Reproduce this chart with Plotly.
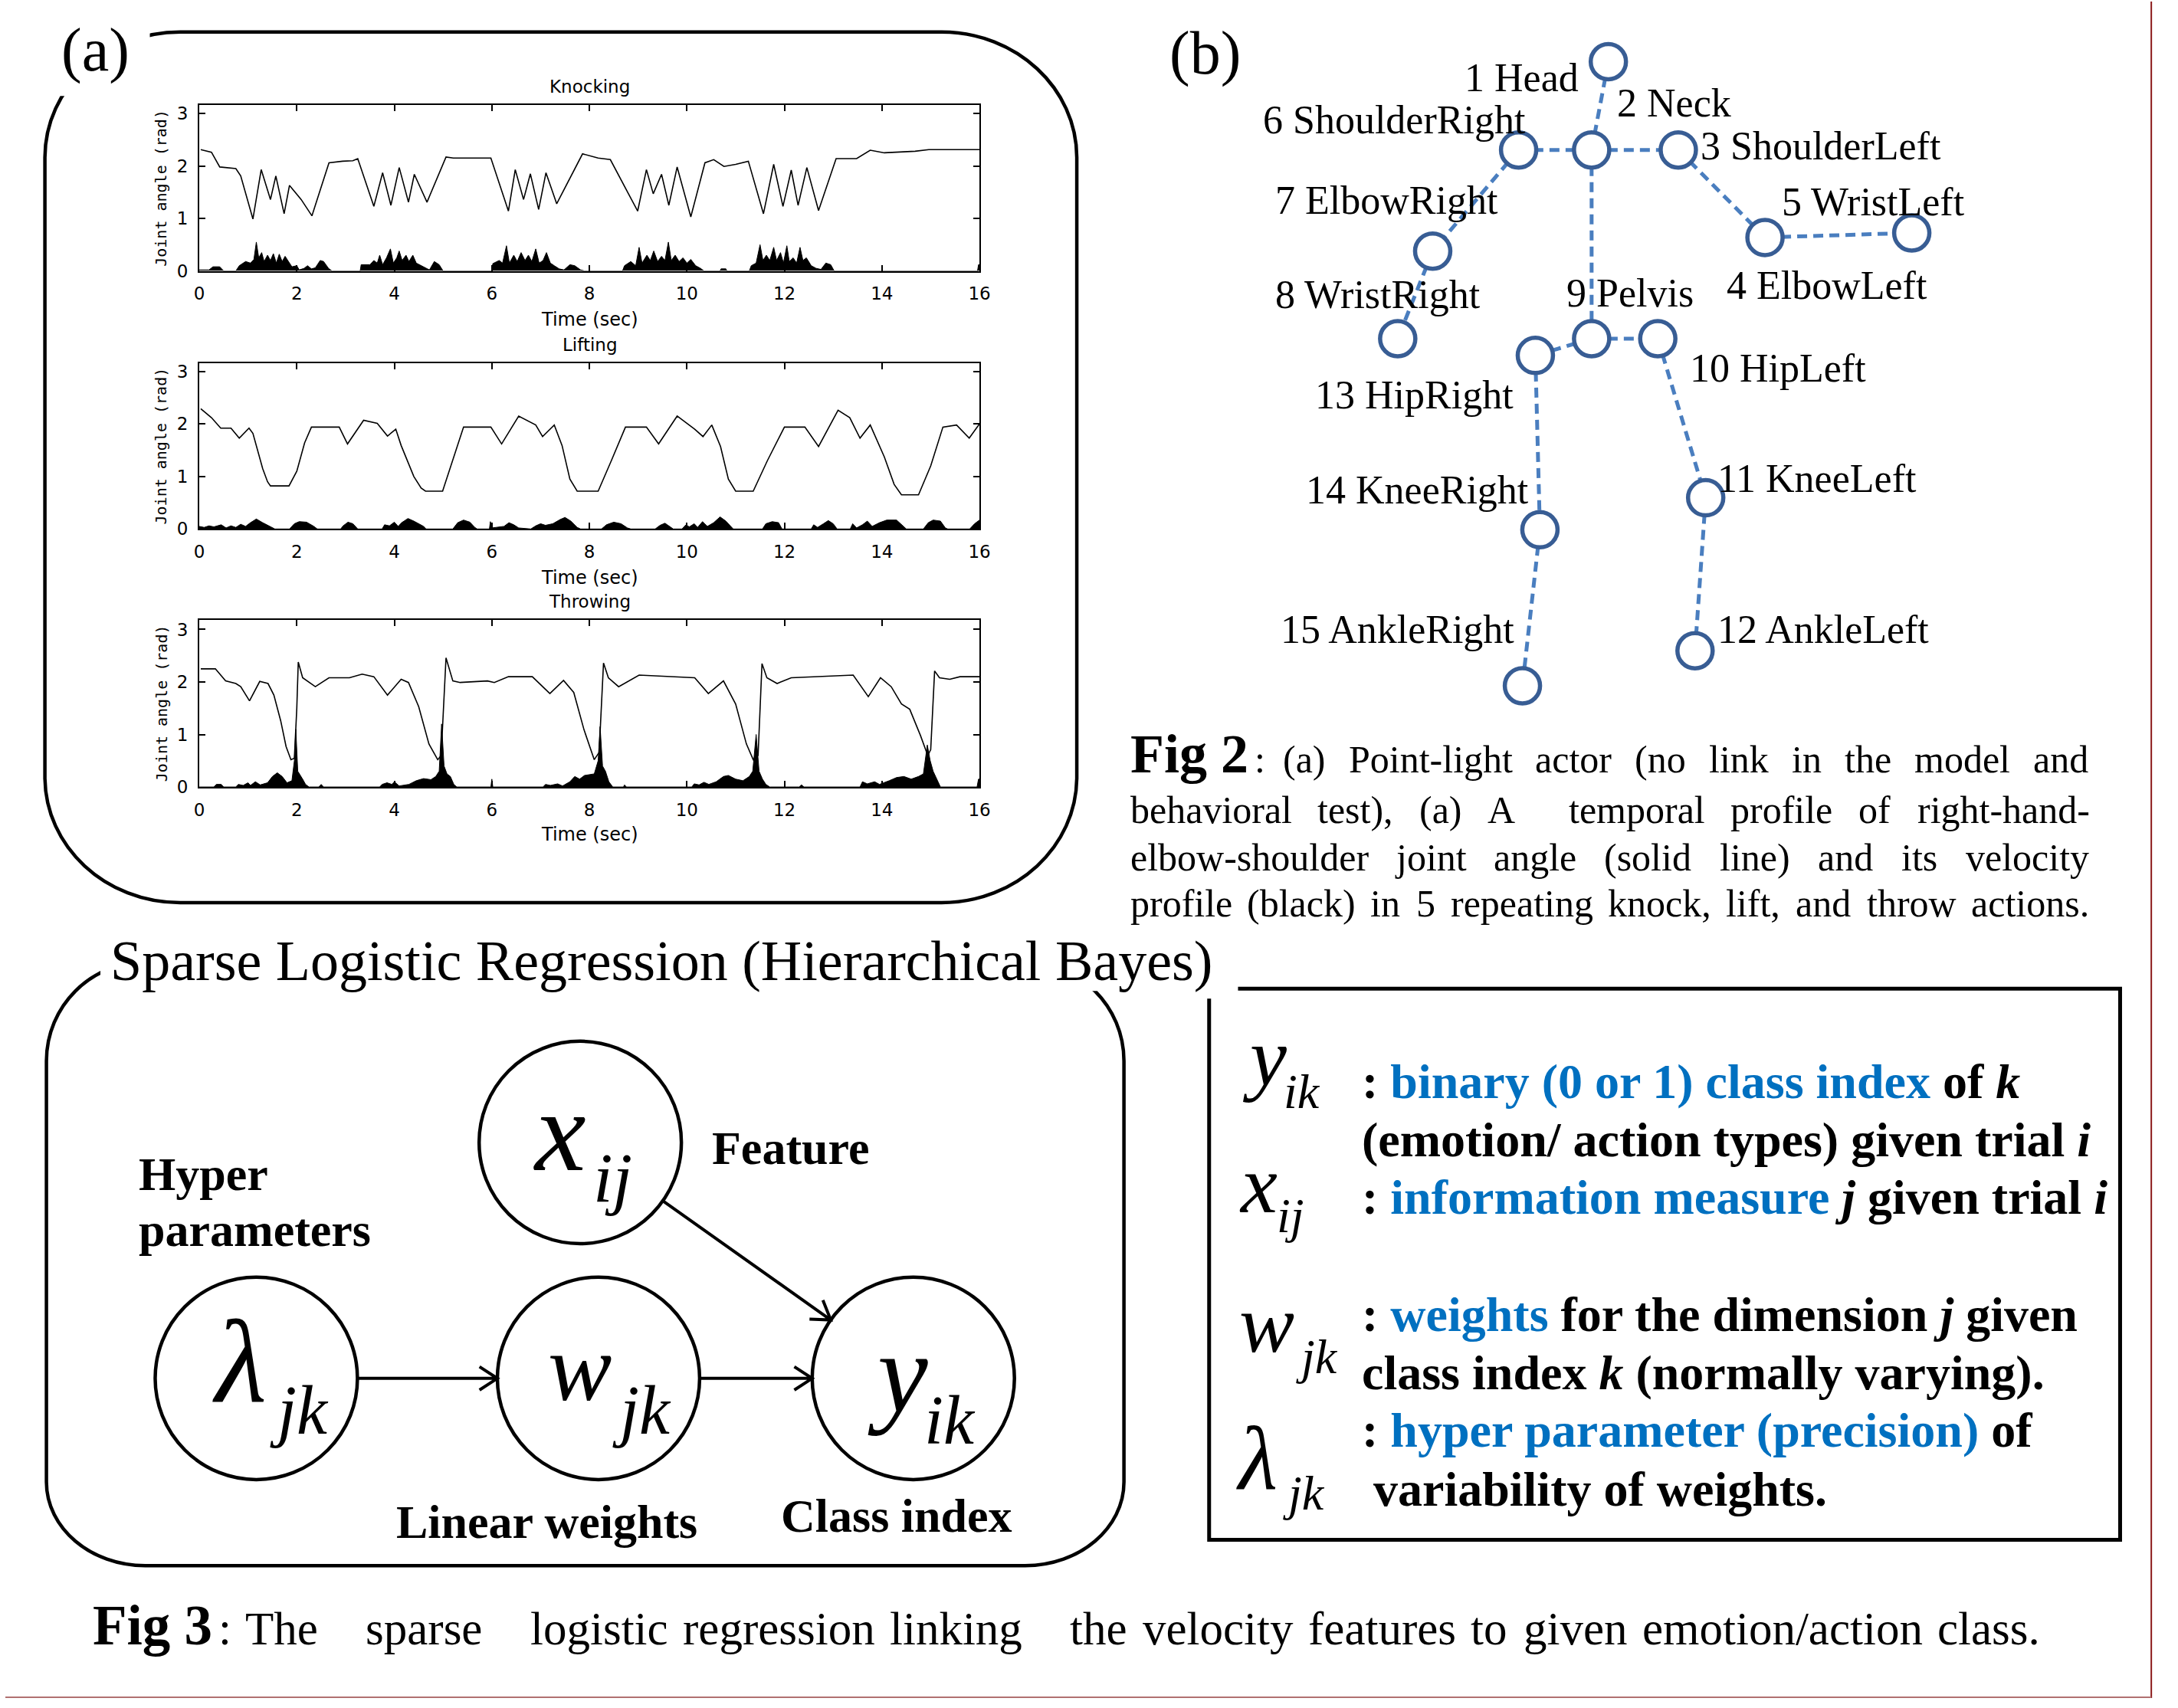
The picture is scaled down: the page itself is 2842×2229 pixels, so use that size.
import math
import plotly.graph_objects as go

W, H = 2842, 2229
SERIF = "Liberation Serif, 'Times New Roman', Times, serif"
SANS = "DejaVu Sans, sans-serif"
MONO = "DejaVu Sans Mono, monospace"
BLUE_TXT = "#0070C0"
NODE_EDGE = "#385D94"
BONE_COL = "#4A7EBF"

# ---------------- (a) time-series panels ----------------
TIME_TICKS = [0, 2, 4, 6, 8, 10, 12, 14, 16]
ANGLE_TICKS = [0, 1, 2, 3]
PANEL_TITLES = ["Knocking", "Lifting", "Throwing"]
X_TITLE = "Time (sec)"
Y_TITLE = "Joint angle (rad)"

KNOCK_ANGLE = [(0.03, 2.31), (0.25, 2.26), (0.42, 1.98), (0.75, 1.95), (0.85, 1.81), (1.1, 0.99), (1.27, 1.93),
               (1.46, 1.36), (1.57, 1.81), (1.74, 1.09), (1.85, 1.63), (2.09, 1.36), (2.31, 1.05), (2.66, 2.06),
               (2.94, 2.09), (3.15, 2.1), (3.25, 2.14), (3.58, 1.23), (3.76, 1.87), (3.93, 1.25), (4.1, 1.97),
               (4.29, 1.31), (4.41, 1.84), (4.67, 1.31), (5.06, 2.17), (5.21, 2.15), (5.98, 2.15), (6.34, 1.14),
               (6.48, 1.93), (6.65, 1.36), (6.79, 1.85), (6.96, 1.17), (7.11, 1.87), (7.33, 1.28), (7.86, 2.23),
               (8.18, 2.15), (8.43, 2.12), (8.99, 1.14), (9.17, 1.93), (9.31, 1.47), (9.48, 1.84), (9.63, 1.25),
               (9.8, 1.98), (10.08, 1.03), (10.37, 2.06), (10.55, 2.12), (10.76, 1.99), (11.0, 2.03), (11.26, 2.09),
               (11.57, 1.09), (11.78, 2.03), (11.97, 1.23), (12.14, 1.92), (12.28, 1.25), (12.46, 1.97), (12.7, 1.15),
               (13.06, 2.14), (13.48, 2.14), (13.76, 2.3), (14.05, 2.25), (14.68, 2.28), (14.96, 2.31), (16.0, 2.31)]

KNOCK_VEL = [(0, 0.02), (0.2, 0.02), (0.28, 0.08), (0.42, 0.08), (0.5, 0), (0.75, 0), (0.82, 0.1), (0.95, 0.18),
             (1.05, 0.15), (1.12, 0.22), (1.17, 0.55), (1.22, 0.25), (1.28, 0.35), (1.33, 0.18), (1.4, 0.3),
             (1.46, 0.2), (1.52, 0.33), (1.58, 0.15), (1.64, 0.32), (1.7, 0.18), (1.76, 0.28), (1.82, 0.2),
             (1.9, 0.08), (2.0, 0.1), (2.05, 0.02), (2.15, 0.05), (2.22, 0.1), (2.3, 0.04), (2.38, 0.06),
             (2.48, 0.2), (2.55, 0.18), (2.65, 0.05), (2.72, 0), (3.3, 0), (3.32, 0.12), (3.5, 0.12), (3.58, 0.2),
             (3.65, 0.15), (3.7, 0.3), (3.76, 0.12), (3.84, 0.25), (3.92, 0.42), (3.98, 0.15), (4.05, 0.25),
             (4.1, 0.38), (4.16, 0.2), (4.24, 0.3), (4.3, 0.18), (4.38, 0.3), (4.45, 0.15), (4.55, 0.1),
             (4.65, 0.05), (4.72, 0.02), (4.82, 0.18), (4.92, 0.12), (5.0, 0), (6.0, 0), (6.02, 0.14), (6.15, 0.2),
             (6.22, 0.15), (6.3, 0.48), (6.36, 0.15), (6.45, 0.3), (6.52, 0.18), (6.6, 0.35), (6.68, 0.2),
             (6.75, 0.3), (6.82, 0.18), (6.9, 0.42), (6.97, 0.15), (7.05, 0.2), (7.12, 0.35), (7.2, 0.15),
             (7.28, 0.1), (7.38, 0.04), (7.48, 0.02), (7.6, 0.12), (7.7, 0.1), (7.82, 0.02), (7.9, 0), (8.68, 0),
             (8.72, 0.1), (8.85, 0.18), (8.95, 0.1), (9.02, 0.45), (9.08, 0.15), (9.18, 0.3), (9.25, 0.2),
             (9.32, 0.38), (9.4, 0.18), (9.48, 0.28), (9.55, 0.2), (9.62, 0.55), (9.68, 0.2), (9.76, 0.3),
             (9.84, 0.18), (9.92, 0.25), (10.0, 0.15), (10.08, 0.22), (10.18, 0.1), (10.28, 0.05), (10.35, 0),
             (10.68, 0), (10.7, 0.04), (10.8, 0.04), (10.82, 0), (11.28, 0), (11.32, 0.1), (11.42, 0.15),
             (11.5, 0.5), (11.56, 0.2), (11.63, 0.3), (11.7, 0.2), (11.78, 0.45), (11.84, 0.2), (11.92, 0.35),
             (11.98, 0.15), (12.05, 0.48), (12.1, 0.18), (12.18, 0.25), (12.25, 0.15), (12.32, 0.45), (12.38, 0.2),
             (12.45, 0.25), (12.55, 0.1), (12.65, 0.05), (12.75, 0.03), (12.85, 0.15), (12.95, 0.12), (13.02, 0),
             (15.96, 0), (15.98, 0.12), (16.0, 0.12)]

LIFT_ANGLE = [(0.03, 2.29), (0.25, 2.12), (0.44, 1.92), (0.65, 1.92), (0.82, 1.73), (1.02, 1.92), (1.1, 1.82),
              (1.2, 1.5), (1.3, 1.15), (1.4, 0.9), (1.46, 0.82), (1.84, 0.82), (2.0, 1.1), (2.16, 1.64), (2.3, 1.94),
              (2.87, 1.94), (3.04, 1.62), (3.37, 2.07), (3.65, 2.01), (3.86, 1.77), (4.03, 1.9), (4.14, 1.59),
              (4.4, 1.0), (4.55, 0.78), (4.64, 0.72), (4.99, 0.72), (5.2, 1.3), (5.42, 1.94), (5.98, 1.94),
              (6.2, 1.62), (6.55, 2.15), (6.9, 1.98), (7.04, 1.76), (7.28, 1.98), (7.44, 1.59), (7.6, 0.95),
              (7.75, 0.72), (8.18, 0.72), (8.45, 1.3), (8.74, 1.94), (9.17, 1.94), (9.42, 1.62), (9.8, 2.15),
              (10.16, 1.9), (10.33, 1.76), (10.51, 1.98), (10.69, 1.57), (10.85, 0.95), (11.0, 0.72), (11.36, 0.72),
              (11.65, 1.3), (12.0, 1.94), (12.42, 1.94), (12.7, 1.57), (13.1, 2.26), (13.34, 2.12), (13.55, 1.73),
              (13.76, 1.98), (14.05, 1.37), (14.25, 0.85), (14.4, 0.65), (14.75, 0.65), (15.0, 1.2), (15.25, 1.94),
              (15.53, 1.98), (15.79, 1.73), (16.0, 2.0)]

LIFT_VEL = [(0, 0.05), (0.1, 0.03), (0.2, 0.06), (0.3, 0.04), (0.45, 0.08), (0.55, 0.02), (0.65, 0.06),
            (0.75, 0.03), (0.85, 0.09), (0.95, 0.05), (1.05, 0.12), (1.17, 0.19), (1.3, 0.12), (1.45, 0.05),
            (1.55, 0), (1.85, 0), (1.95, 0.1), (2.05, 0.14), (2.2, 0.13), (2.35, 0.05), (2.42, 0), (2.9, 0),
            (2.95, 0.06), (3.05, 0.13), (3.15, 0.1), (3.25, 0), (3.75, 0), (3.8, 0.08), (3.9, 0.06), (4.0, 0.13),
            (4.08, 0.05), (4.15, 0.12), (4.28, 0.2), (4.4, 0.15), (4.5, 0.1), (4.6, 0.05), (4.65, 0), (5.2, 0),
            (5.3, 0.12), (5.42, 0.17), (5.55, 0.13), (5.65, 0.03), (5.7, 0), (5.95, 0), (5.97, 0.14), (6.0, 0.02),
            (6.25, 0.05), (6.35, 0.12), (6.45, 0.08), (6.55, 0.02), (6.8, 0), (6.9, 0.06), (7.0, 0.1), (7.1, 0.07),
            (7.25, 0.1), (7.4, 0.18), (7.5, 0.22), (7.62, 0.15), (7.75, 0.03), (7.82, 0), (8.25, 0), (8.35, 0.08),
            (8.5, 0.13), (8.65, 0.1), (8.78, 0.02), (8.85, 0), (9.35, 0), (9.45, 0.07), (9.55, 0.11), (9.65, 0.05),
            (9.72, 0), (9.9, 0), (9.98, 0.08), (10.05, 0.04), (10.15, 0.1), (10.22, 0.03), (10.32, 0.14),
            (10.42, 0.05), (10.55, 0.12), (10.68, 0.23), (10.8, 0.15), (10.9, 0.05), (10.95, 0), (11.55, 0),
            (11.62, 0.1), (11.75, 0.14), (11.88, 0.12), (11.95, 0), (12.55, 0), (12.6, 0.08), (12.68, 0.03),
            (12.8, 0.1), (12.9, 0.16), (13.0, 0.1), (13.08, 0), (13.35, 0), (13.4, 0.1), (13.48, 0.02),
            (13.6, 0.08), (13.7, 0.15), (13.8, 0.05), (13.95, 0.12), (14.1, 0.17), (14.3, 0.17), (14.45, 0.05),
            (14.5, 0), (14.85, 0), (14.95, 0.12), (15.05, 0.17), (15.2, 0.15), (15.3, 0.02), (15.35, 0),
            (15.8, 0), (15.9, 0.1), (16.0, 0.17)]

THROW_ANGLE = [(0.03, 2.25), (0.33, 2.25), (0.54, 2.02), (0.75, 1.97), (0.85, 1.91), (1.03, 1.64), (1.24, 2.01),
               (1.41, 1.97), (1.53, 1.75), (1.67, 1.26), (1.78, 0.77), (1.88, 0.52), (1.95, 0.55), (2.0, 1.5),
               (2.03, 2.38), (2.12, 2.08), (2.38, 1.91), (2.66, 2.08), (3.08, 2.08), (3.34, 2.15), (3.58, 2.1),
               (3.86, 1.75), (4.14, 2.05), (4.29, 1.99), (4.5, 1.53), (4.71, 0.82), (4.89, 0.52), (4.96, 0.6),
               (5.06, 2.46), (5.2, 2.02), (5.35, 1.99), (5.91, 2.02), (6.05, 1.99), (6.34, 2.1), (6.83, 2.1),
               (7.19, 1.78), (7.47, 2.03), (7.68, 1.8), (7.89, 1.09), (8.1, 0.52), (8.2, 0.66), (8.29, 2.36),
               (8.39, 2.08), (8.6, 1.91), (9.02, 2.13), (9.59, 2.1), (10.16, 2.08), (10.44, 1.78), (10.75, 2.02),
               (11.0, 1.58), (11.22, 0.82), (11.36, 0.52), (11.46, 0.6), (11.54, 2.35), (11.64, 2.08), (11.85, 1.97),
               (12.14, 2.08), (13.41, 2.13), (13.72, 1.72), (13.97, 2.08), (14.19, 1.91), (14.4, 1.58), (14.57, 1.48),
               (14.79, 0.98), (14.94, 0.6), (15.0, 0.71), (15.08, 2.21), (15.18, 2.08), (15.39, 2.05), (15.6, 2.1),
               (16.0, 2.1)]

THROW_VEL = [(0, 0), (0.3, 0), (0.35, 0.05), (0.45, 0.05), (0.5, 0), (0.75, 0), (0.8, 0.05), (0.9, 0.03),
             (1.0, 0.08), (1.05, 0.03), (1.15, 0.1), (1.25, 0.04), (1.4, 0.08), (1.5, 0.2), (1.6, 0.27), (1.7, 0.2),
             (1.8, 0.08), (1.9, 0.12), (1.95, 0.5), (1.98, 1.1), (2.02, 0.3), (2.08, 0.22), (2.12, 0.15),
             (2.18, 0.05), (2.25, 0), (2.45, 0), (2.5, 0.05), (2.55, 0), (3.7, 0), (3.75, 0.05), (3.85, 0.08),
             (3.95, 0.05), (4.0, 0.1), (4.1, 0.02), (4.3, 0.05), (4.45, 0.12), (4.6, 0.16), (4.75, 0.14),
             (4.85, 0.2), (4.92, 0.3), (4.97, 1.2), (5.02, 0.4), (5.08, 0.25), (5.15, 0.2), (5.22, 0.05), (5.28, 0),
             (5.98, 0), (6.0, 0.15), (6.02, 0), (7.05, 0), (7.1, 0.05), (7.2, 0.03), (7.35, 0.06), (7.45, 0.02),
             (7.6, 0.1), (7.7, 0.2), (7.8, 0.15), (7.9, 0.22), (8.1, 0.25), (8.18, 0.5), (8.22, 1.15), (8.27, 0.4),
             (8.33, 0.3), (8.4, 0.1), (8.48, 0), (8.7, 0), (8.72, 0.04), (8.76, 0), (10.1, 0), (10.15, 0.06),
             (10.25, 0.04), (10.35, 0.09), (10.45, 0.05), (10.6, 0.1), (10.75, 0.2), (10.85, 0.22), (11.0, 0.15),
             (11.15, 0.12), (11.28, 0.2), (11.35, 0.3), (11.42, 1.0), (11.48, 0.3), (11.55, 0.15), (11.62, 0.05),
             (11.7, 0), (12.3, 0), (12.35, 0.04), (12.4, 0), (13.55, 0), (13.6, 0.1), (13.7, 0.06), (13.85, 0.1),
             (13.95, 0.05), (14.15, 0.12), (14.3, 0.18), (14.45, 0.2), (14.6, 0.15), (14.75, 0.2), (14.85, 0.25),
             (14.93, 0.8), (14.99, 0.5), (15.05, 0.3), (15.12, 0.15), (15.2, 0), (15.95, 0), (15.98, 0.15),
             (16.0, 0.15)]

PANEL_DATA = [(KNOCK_ANGLE, KNOCK_VEL), (LIFT_ANGLE, LIFT_VEL), (THROW_ANGLE, THROW_VEL)]

# ---------------- (b) point-light skeleton ----------------
JOINT_LABELS = ["1 Head", "2 Neck", "3 ShoulderLeft", "4 ElbowLeft", "5 WristLeft", "6 ShoulderRight",
                "7 ElbowRight", "8 WristRight", "9 Pelvis", "10 HipLeft", "11 KneeLeft", "12 AnkleLeft",
                "13 HipRight", "14 KneeRight", "15 AnkleRight"]
JOINT_X = [2108, 2086, 2200, 2314, 2507, 1990, 1877, 1831, 2086, 2173, 2236, 2222, 2012, 2018, 1995]
JOINT_Y = [79, 195, 195, 310, 304, 195, 328, 443, 443, 443, 652, 853, 465, 694, 899]
BONES = [(1, 2), (2, 3), (2, 6), (6, 7), (7, 8), (3, 4), (4, 5), (2, 9), (9, 10), (9, 13),
         (13, 14), (14, 15), (10, 11), (11, 12)]
LABEL_X = [1917, 2117, 2227, 2261, 2334, 1652, 1668, 1668, 2051, 2213, 2249, 2249, 1720, 1708, 1675]
LABEL_BASE = [118, 151, 207, 391, 281, 173, 279, 403, 401, 499, 644, 843, 535, 659, 843]

FIG2_LINES = ["(a) Point-light actor (no link in the model and",
              "behavioral test), (a) A  temporal profile of right-hand-",
              "elbow-shoulder joint angle (solid line) and its velocity",
              "profile (black) in 5 repeating knock, lift, and throw actions."]

# ---------------- Fig 3 graphical model ----------------
MODEL_TITLE = "Sparse Logistic Regression (Hierarchical Bayes)"
MODEL_NODES = {"x": (756, 1499), "lam": (330, 1809), "w": (780, 1809), "y": (1194, 1809)}
MODEL_EDGES = [("lam", "w"), ("w", "y"), ("x", "y")]
FIG3_TEXT = "The   sparse   logistic regression linking   the velocity features to given emotion/action class."

# ---------------- helpers ----------------
TIMES_W = {' ': 250, '(': 333, ')': 333, ',': 250, '-': 333, '.': 250, '/': 278, ':': 278,
           'A': 722, 'P': 556, 'T': 611, 'a': 444, 'b': 500, 'c': 444, 'd': 500, 'e': 444, 'f': 333,
           'g': 500, 'h': 500, 'i': 278, 'j': 278, 'k': 500, 'l': 278, 'm': 778, 'n': 500, 'o': 500,
           'p': 500, 'q': 500, 'r': 333, 's': 389, 't': 278, 'u': 500, 'v': 500, 'w': 722, 'x': 500,
           'y': 500, 'z': 444}


def tw(s, size):
    return sum(TIMES_W.get(c, 500) for c in s) / 1000.0 * size


annotations = []
shapes = []


def txt(x, base, text, size, family=SERIF, color="black", anchor="left"):
    annotations.append(dict(x=x, y=base - 0.3375 * size, xref="x", yref="y", text=text, showarrow=False,
                            xanchor=anchor, yanchor="middle",
                            font=dict(family=family, size=size, color=color)))


def ctext(x, y, text, size, family=SANS, angle=0):
    annotations.append(dict(x=x, y=y, xref="x", yref="y", text=text, showarrow=False, xanchor="center",
                            yanchor="middle", textangle=angle, font=dict(family=family, size=size, color="black")))


def justify(line, x0, x1, base, size):
    parts = line.split(" ")
    widths = [tw(p, size) for p in parts]
    gap = (x1 - x0 - sum(widths)) / (len(parts) - 1)
    x = x0
    for p, w in zip(parts, widths):
        if p:
            txt(x, base, p, size)
        x += w + gap


def rrect(l, t, r, b, rx, ry, ryb=None):
    k = 0.5523
    ryb = ry if ryb is None else ryb
    return (f"M {l+rx},{t} L {r-rx},{t} C {r-rx+k*rx},{t} {r},{t+ry-k*ry} {r},{t+ry} "
            f"L {r},{b-ryb} C {r},{b-ryb+k*ryb} {r-rx+k*rx},{b} {r-rx},{b} "
            f"L {l+rx},{b} C {l+rx-k*rx},{b} {l},{b-ryb+k*ryb} {l},{b-ryb} "
            f"L {l},{t+ry} C {l},{t+ry-k*ry} {l+rx-k*rx},{t} {l+rx},{t} Z")


def path(p, color="black", width=4.5, fill=None):
    d = dict(type="path", path=p, xref="x", yref="y", line=dict(color=color, width=width), layer="above")
    if fill:
        d["fillcolor"] = fill
    shapes.append(d)


fig = go.Figure()

# ---------------- panel (a) ----------------
PL, PR = 255, 1281
PANEL_TOP = [136, 475, 812]
PANEL_BOT = [354, 693, 1032]
TITLE_Y = [112, 451, 788]
XT_Y = [418, 757, 1094]

layout_axes = {}
for i, (angle, vel) in enumerate(PANEL_DATA):
    n = i + 2
    xa, ya = f"x{n}", f"y{n}"
    at, av = zip(*angle)
    vt, vv = zip(*vel)
    fig.add_trace(go.Scatter(x=vt, y=vv, mode="lines", fill="tozeroy", fillcolor="black",
                             line=dict(color="black", width=1), xaxis=xa, yaxis=ya, hoverinfo="skip"))
    fig.add_trace(go.Scatter(x=at, y=av, mode="lines", line=dict(color="black", width=1.6),
                             xaxis=xa, yaxis=ya, hoverinfo="skip"))
    common = dict(ticks="inside", ticklen=8, tickwidth=1.5, tickcolor="black", showline=True,
                  linecolor="black", linewidth=2.2, mirror="allticks", showgrid=False, zeroline=False,
                  fixedrange=True, tickfont=dict(family=SANS, size=23, color="black"))
    layout_axes[f"xaxis{n}"] = dict(domain=[PL / W, PR / W], range=[0, 16], tickvals=TIME_TICKS,
                                    anchor=ya, ticklabelstandoff=8, **common)
    layout_axes[f"yaxis{n}"] = dict(domain=[1 - PANEL_BOT[i] / H, 1 - PANEL_TOP[i] / H],
                                    range=[0, (PANEL_BOT[i] - PANEL_TOP[i]) / 69.0], tickvals=ANGLE_TICKS,
                                    anchor=xa, ticklabelstandoff=8, **common)
    ctext((PL + PR) / 2, TITLE_Y[i], PANEL_TITLES[i], 23)
    ctext((PL + PR) / 2, XT_Y[i], X_TITLE, 24)
    ctext(205, (PANEL_TOP[i] + PANEL_BOT[i]) / 2, Y_TITLE, 20, family=MONO, angle=-90)

# rounded frame around (a)
path(rrect(52, 40, 1409, 1184, 178, 165))
shapes.append(dict(type="rect", x0=58, x1=190, y0=26, y1=124, xref="x", yref="y",
                   line=dict(width=0), fillcolor="white", layer="above"))
txt(72, 91, "(a)", 80)

# ---------------- panel (b) ----------------
bx, by = [], []
for a, b in BONES:
    bx += [JOINT_X[a - 1], JOINT_X[b - 1], None]
    by += [JOINT_Y[a - 1], JOINT_Y[b - 1], None]
fig.add_trace(go.Scatter(x=bx, y=by, mode="lines", line=dict(color=BONE_COL, width=5, dash="13px,8px"),
                         xaxis="x", yaxis="y", hoverinfo="skip"))
fig.add_trace(go.Scatter(x=JOINT_X, y=JOINT_Y, mode="markers",
                         marker=dict(symbol="circle", size=46, color="white", line=dict(color=NODE_EDGE, width=5.5)),
                         xaxis="x", yaxis="y", hoverinfo="skip", cliponaxis=False))
for lab, lx, lb in zip(JOINT_LABELS, LABEL_X, LABEL_BASE):
    txt(lx, lb, lab, 52)
txt(1529, 95, "(b)", 80)

# Fig 2 caption
txt(1477, 1013, "<b>Fig 2</b>", 72)
txt(1641, 1013, ":", 50)
CAP_X0 = [1678, 1477, 1477, 1477]
CAP_BASE = [1013, 1079, 1141, 1202]
for line, x0, b in zip(FIG2_LINES, CAP_X0, CAP_BASE):
    justify(line, x0, 2737, b, 50)

# ---------------- Fig 3 model ----------------
path(rrect(54, 1262, 1471, 2055, 130, 130, 110))
shapes.append(dict(type="rect", x0=125, x1=1445, y0=1205, y1=1300, xref="x", yref="y",
                   line=dict(width=0), fillcolor="white", layer="above"))
txt(136, 1285, MODEL_TITLE, 74)

R = 133
for key, (cx, cy) in MODEL_NODES.items():
    shapes.append(dict(type="circle", x0=cx - R, x1=cx + R, y0=cy - R, y1=cy + R, xref="x", yref="y",
                       line=dict(color="black", width=4.5), layer="above"))
for a, b in MODEL_EDGES:
    (ax_, ay_), (bx_, by_) = MODEL_NODES[a], MODEL_NODES[b]
    d = math.hypot(bx_ - ax_, by_ - ay_)
    ux, uy = (bx_ - ax_) / d, (by_ - ay_) / d
    sx, sy = ax_ + R * ux, ay_ + R * uy
    ex, ey = bx_ - R * ux, by_ - R * uy
    L, th = 28, math.radians(33)
    vx, vy = -ux, -uy
    h1 = (ex + L * (vx * math.cos(th) - vy * math.sin(th)), ey + L * (vx * math.sin(th) + vy * math.cos(th)))
    h2 = (ex + L * (vx * math.cos(-th) - vy * math.sin(-th)), ey + L * (vx * math.sin(-th) + vy * math.cos(-th)))
    path(f"M {sx},{sy} L {ex},{ey} M {h1[0]},{h1[1]} L {ex},{ey} L {h2[0]},{h2[1]}", width=4)

# node symbols
txt(692, 1535, "<i>x</i>", 150)
txt(771, 1576, "<i>ij</i>", 92)
txt(270, 1839, "<i>λ</i>", 155)
txt(346, 1881, "<i>jk</i>", 90)
txt(712, 1837, "<i>w</i>", 125)
txt(796, 1881, "<i>jk</i>", 90)
txt(1132, 1852, "<i>y</i>", 148)
txt(1206, 1894, "<i>ik</i>", 90)

txt(173, 1561, "<b>Hyper</b>", 62)
txt(173, 1635, "<b>parameters</b>", 62)
txt(927, 1527, "<b>Feature</b>", 62)
txt(512, 2018, "<b>Linear weights</b>", 62)
txt(1018, 2010, "<b>Class index</b>", 62)

# legend box
path("M 1621,1297 L 2781,1297 L 2781,2021 L 1583,2021 L 1583,1310", width=5)
txt(1625, 1423, "<i>y</i>", 108)
txt(1679, 1454, "<i>ik</i>", 64)
txt(1621, 1590, "<i>x</i>", 108)
txt(1670, 1617, "<i>ij</i>", 64)
txt(1621, 1774, "<i>w</i>", 108)
txt(1695, 1802, "<i>jk</i>", 64)
txt(1617, 1954, "<i>λ</i>", 118)
txt(1678, 1981, "<i>jk</i>", 64)


def blue(s):
    return f"<span style='color:{BLUE_TXT}'>{s}</span>"


LEG = 64
txt(1782, 1441, "<b>: " + blue("binary (0 or 1) class index") + " of <i>k</i></b>", LEG)
txt(1782, 1517, "<b>(emotion/ action types) given trial <i>i</i></b>", LEG)
txt(1782, 1593, "<b>: " + blue("information measure") + " <i>j</i> given trial <i>i</i></b>", LEG)
txt(1782, 1747, "<b>: " + blue("weights") + " for the dimension <i>j</i> given</b>", LEG)
txt(1782, 1823, "<b>class index <i>k</i> (normally varying).</b>", LEG)
txt(1782, 1899, "<b>: " + blue("hyper parameter (precision)") + " of</b>", LEG)
txt(1797, 1976, "<b>variability of weights.</b>", LEG)

# Fig 3 caption
txt(113, 2158, "<b>Fig 3</b>", 73)
txt(278, 2158, ":", 61)
justify(FIG3_TEXT, 313, 2672, 2158, 61)

# page border lines
shapes.append(dict(type="line", x0=2822, x1=2822, y0=0, y1=H, xref="x", yref="y",
                   line=dict(color="#8B1A1A", width=2), layer="above"))
shapes.append(dict(type="line", x0=0, x1=2822, y0=2228, y1=2228, xref="x", yref="y",
                   line=dict(color="#B07070", width=2), layer="above"))

fig.update_layout(
    width=W, height=H, autosize=False, margin=dict(l=0, r=0, t=0, b=0),
    paper_bgcolor="white", plot_bgcolor="white", showlegend=False,
    xaxis=dict(domain=[0, 1], range=[0, W], visible=False, fixedrange=True),
    yaxis=dict(domain=[0, 1], range=[H, 0], visible=False, fixedrange=True),
    annotations=annotations, shapes=shapes, **layout_axes)

fig.write_html("out.html")
